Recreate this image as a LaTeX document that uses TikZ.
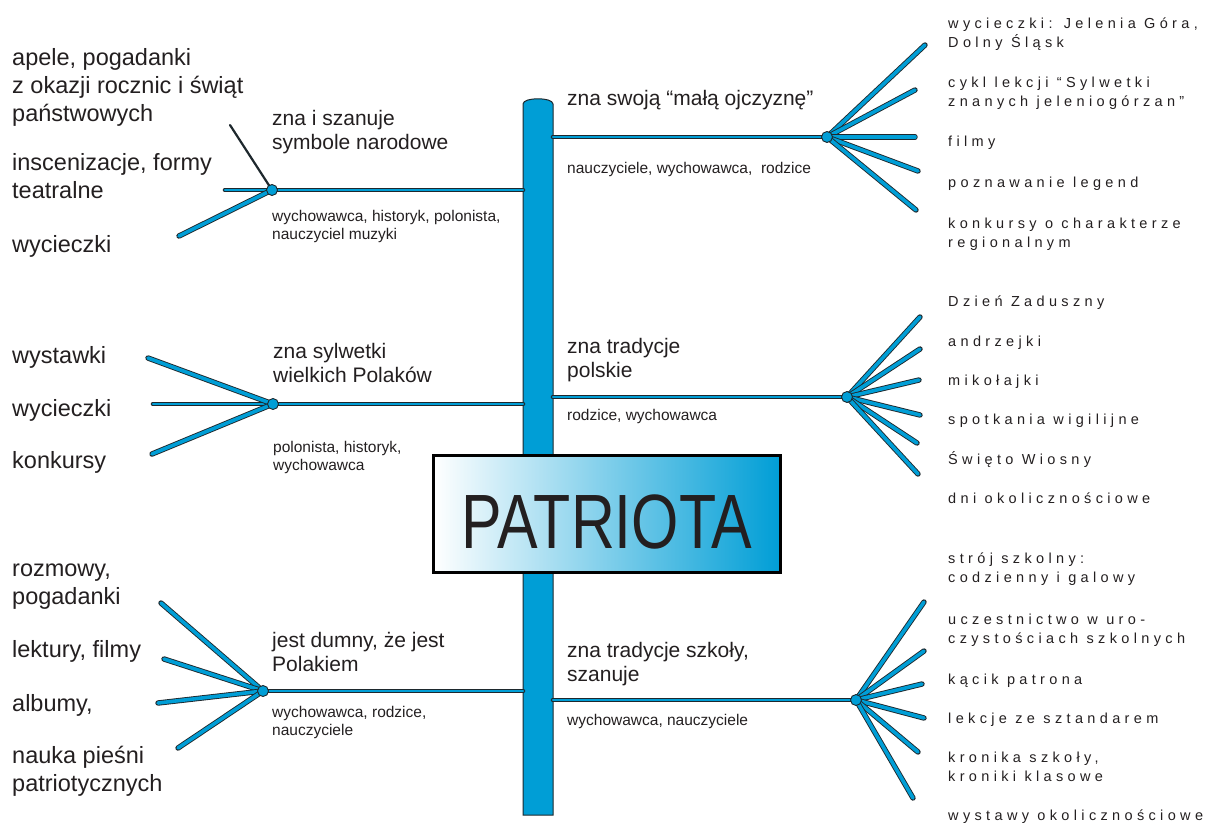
\documentclass[tikz,border=0pt]{standalone}
\usepackage{fontspec}
\usepackage{graphicx}
\setmainfont{Liberation Sans}
\newfontfamily\spaced[LetterSpace=30]{Liberation Sans}

\definecolor{twigblue}{RGB}{0,158,214}
\definecolor{outline}{RGB}{30,40,45}
\definecolor{inkgray}{RGB}{35,31,32}
\definecolor{fadeblue}{RGB}{85,180,208}

\tikzset{
	twig/.style={draw=outline, double=twigblue, double distance=2.8pt, line width=0.9pt, line cap=round},
	spoke/.style={twig, double distance=3.6pt},
	inkline/.style={draw=outline, line width=2.2pt, line cap=round},
	hubdot/.style={circle, fill=twigblue, draw=outline, line width=0.9pt, minimum size=11pt, inner sep=0pt},
	bigtxt/.style={anchor=base west, align=left, inner sep=0pt, text=inkgray, font=\fontsize{23.5}{28}\selectfont},
	topic/.style={anchor=base west, align=left, inner sep=0pt, text=inkgray, font=\fontsize{21}{24}\selectfont},
	whotxt/.style={anchor=base west, align=left, inner sep=0pt, text=inkgray, font=\fontsize{15.5}{18}\selectfont},
	itemtxt/.style={anchor=base west, align=left, inner sep=0pt, text=inkgray, font=\spaced\fontsize{14.5}{19.5}\selectfont},
	plate/.style={rectangle, draw=black, line width=3pt, minimum width=347pt, minimum height=117pt,
		left color=white, middle color=fadeblue, right color=twigblue}
}

% fan of spokes from a hub to named free ends
\newcommand{\fan}[3]{
	\foreach \ex/\ey [count=\i] in {#3} {
		\coordinate (#2\i) at (\ex,\ey);
		\draw[spoke] (#1) -- (#2\i);
	}
}

\begin{document}
\begin{tikzpicture}[x=1pt, y=-1pt]
\useasboundingbox (0,0) rectangle (1210,828);

\pgfmathsetmacro{\trunkL}{523}
\pgfmathsetmacro{\trunkR}{553}
\pgfmathsetmacro{\trunkTop}{104}
\pgfmathsetmacro{\trunkBot}{815}

% pien (multi-line labels sit on their last baseline)
\filldraw[fill=twigblue, draw=outline, line width=1pt] (\trunkL,\trunkBot) -- (\trunkL,\trunkTop)
	.. controls (\trunkL,97) and (\trunkR,97) .. (\trunkR,\trunkTop) -- (\trunkR,\trunkBot) -- cycle;

% lewa gora
\coordinate (hubA) at (272,190);
\coordinate (rootA) at (\trunkL,190);
\coordinate (tailA) at (225,190);
\coordinate (penA) at (230,125);
\draw[twig] (tailA) -- (rootA);
\draw[inkline] (hubA) -- (penA);
\fan{hubA}{endA}{179/236}
\node[hubdot] (dotA) at (hubA) {};

\node[topic] (topicA) at (272,149) {zna i szanuje\\symbole narodowe};
\node[whotxt] (whoA) at (272,239) {wychowawca, historyk, polonista,\\nauczyciel muzyki};
\node[bigtxt] (actA1) at (12,121) {apele, pogadanki\\z okazji rocznic i świąt\\państwowych};
\node[bigtxt] (actA2) at (12,198) {inscenizacje, formy\\teatralne};
\node[bigtxt] (actA3) at (12,252) {wycieczki};

% lewa srodek
\coordinate (hubB) at (273,404);
\coordinate (rootB) at (\trunkL,404);
\coordinate (tailB) at (153,404);
\draw[twig] (tailB) -- (rootB);
\fan{hubB}{endB}{148/358, 152/454}
\node[hubdot] (dotB) at (hubB) {};

\node[topic] (topicB) at (273,382) {zna sylwetki\\wielkich Polaków};
\node[whotxt] (whoB) at (273,470) {polonista, historyk,\\wychowawca};
\node[bigtxt] (actB1) at (12,363) {wystawki};
\node[bigtxt] (actB2) at (12,416) {wycieczki};
\node[bigtxt] (actB3) at (12,468) {konkursy};

% lewa dol
\coordinate (hubC) at (263,691);
\coordinate (rootC) at (\trunkL,691);
\draw[twig] (hubC) -- (rootC);
\fan{hubC}{endC}{161/603, 164/659, 158/703, 178/748}
\node[hubdot] (dotC) at (hubC) {};

\node[topic] (topicC) at (272,671) {jest dumny, że jest\\Polakiem};
\node[whotxt] (whoC) at (272,735) {wychowawca, rodzice,\\nauczyciele};
\node[bigtxt] (actC1) at (12,604) {rozmowy,\\pogadanki};
\node[bigtxt] (actC2) at (12,657) {lektury, filmy};
\node[bigtxt] (actC3) at (12,711) {albumy,};
\node[bigtxt] (actC4) at (12,791) {nauka pieśni\\patriotycznych};

% prawa gora
\coordinate (hubD) at (827,137);
\coordinate (rootD) at (\trunkR,137);
\draw[twig] (rootD) -- (hubD);
\fan{hubD}{endD}{925/45, 915/90, 915/137, 918/171, 916/210}
\node[hubdot] (dotD) at (hubD) {};

\node[topic] (topicD) at (567,105) {zna swoją “małą ojczyznę”};
\node[whotxt] (whoD) at (567,173) {nauczyciele, wychowawca,~ rodzice};
\node[itemtxt] (actD1) at (948,47.5) {wycieczki: Jelenia Góra,\\Dolny Śląsk};
\node[itemtxt] (actD2) at (948,106.5) {cykl lekcji “Sylwetki\\znanych jeleniogórzan”};
\node[itemtxt] (actD3) at (948,146) {filmy};
\node[itemtxt] (actD4) at (948,187) {poznawanie legend};
\node[itemtxt] (actD5) at (948,247.5) {konkursy o charakterze\\regionalnym};

% prawa srodek
\coordinate (hubE) at (847,397);
\coordinate (rootE) at (\trunkR,397);
\draw[twig] (rootE) -- (hubE);
\fan{hubE}{endE}{920/317, 920/349, 919/380, 920/415, 917/443, 918/474}
\node[hubdot] (dotE) at (hubE) {};

\node[topic] (topicE) at (567,377) {zna tradycje\\polskie};
\node[whotxt] (whoE) at (567,420) {rodzice, wychowawca};
\node[itemtxt] (actE1) at (948,306) {Dzień Zaduszny};
\node[itemtxt] (actE2) at (948,346) {andrzejki};
\node[itemtxt] (actE3) at (948,385) {mikołajki};
\node[itemtxt] (actE4) at (948,424) {spotkania wigilijne};
\node[itemtxt] (actE5) at (948,464) {Święto Wiosny};
\node[itemtxt] (actE6) at (948,503) {dni okolicznościowe};

% prawa dol
\coordinate (hubF) at (856,700);
\coordinate (rootF) at (\trunkR,700);
\draw[twig] (rootF) -- (hubF);
\fan{hubF}{endF}{924/602, 924/651, 922/684, 924/718, 918/752, 913/798}
\node[hubdot] (dotF) at (hubF) {};

\node[topic] (topicF) at (567,681) {zna tradycje szkoły,\\szanuje};
\node[whotxt] (whoF) at (567,725) {wychowawca, nauczyciele};
\node[itemtxt] (actF1) at (948,582.5) {strój szkolny:\\codzienny i galowy};
\node[itemtxt] (actF2) at (948,643.5) {uczestnictwo w uro-\\czystościach szkolnych};
\node[itemtxt] (actF3) at (948,684) {kącik patrona};
\node[itemtxt] (actF4) at (948,723) {lekcje ze sztandarem};
\node[itemtxt] (actF5) at (948,781.5) {kronika szkoły,\\kroniki klasowe};
\node[itemtxt] (actF6) at (948,820) {wystawy okolicznościowe};

% tablica
\node[plate] (plate) at (606.5,513.5) {};
\node[anchor=base, inner sep=0pt, text=inkgray, font=\fontsize{77}{77}\selectfont] (title) at (607,548)
	{\scalebox{0.79}[1]{PATRIOTA}};
\end{tikzpicture}
\end{document}
